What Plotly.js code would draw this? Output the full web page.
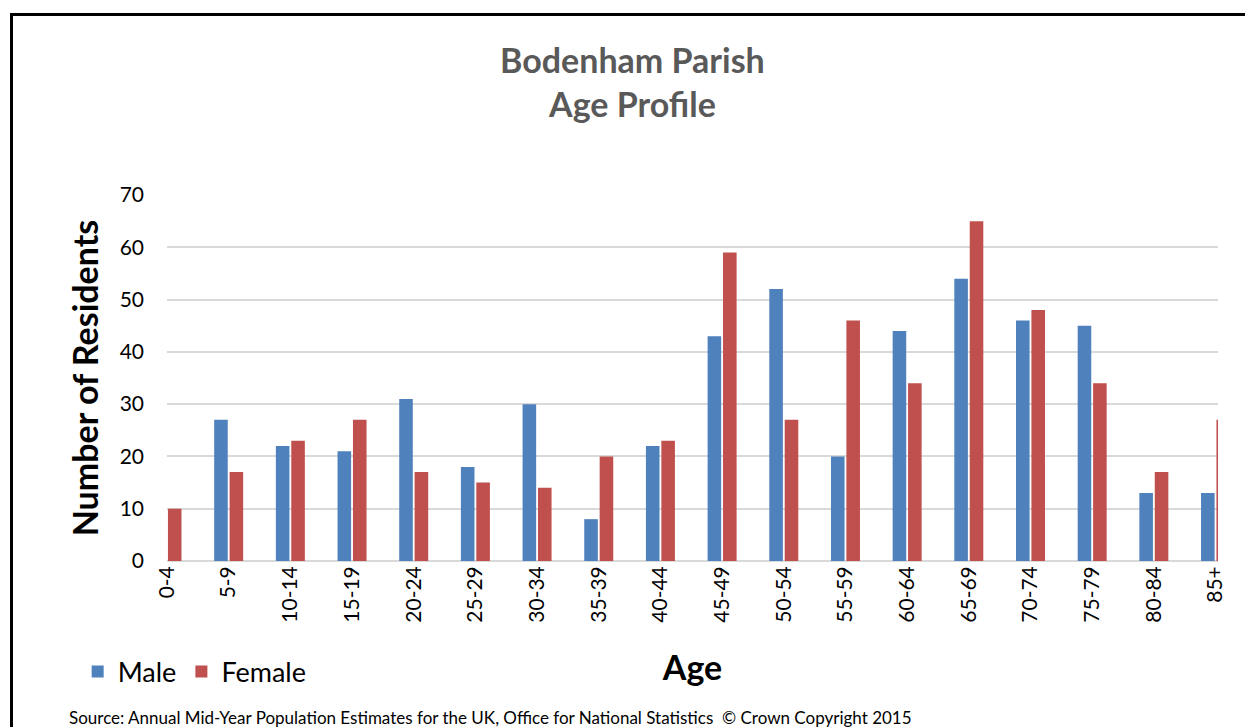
<!DOCTYPE html>
<html>
<head>
<meta charset="utf-8">
<script src="https://cdn.plot.ly/plotly-3.0.1.min.js"></script>
<style>
  body { margin: 0; background: #fff; }
  #chart { width: 1245px; height: 727px; }
  #frame { position: absolute; left: 10px; top: 13px; width: 1300px; height: 800px;
           border-left: 3px solid #000; border-top: 3px solid #000; pointer-events: none; }
</style>
</head>
<body>
<div id="chart"></div>
<div id="frame"></div>
<script>
// age bands and counts
const ageBands = ['0-4', '5-9', '10-14', '15-19', '20-24', '25-29', '30-34', '35-39', '40-44',
  '45-49', '50-54', '55-59', '60-64', '65-69', '70-74', '75-79', '80-84', '85+'];
const male = [0, 27, 22, 21, 31, 18, 30, 8, 22, 43, 52, 20, 44, 54, 46, 45, 13, 13];
const female = [10, 17, 23, 27, 17, 15, 14, 20, 23, 59, 27, 46, 34, 65, 48, 34, 17, 27];

const font = 'Lato, "Open Sans", sans-serif';

Plotly.newPlot('chart', [{
  type: 'bar',
  x: ageBands,
  y: male,
  name: 'Male',
  marker: { color: '#4f81bd' }
}, {
  type: 'bar',
  x: ageBands,
  y: female,
  name: 'Female',
  marker: { color: '#c0504d' }
}], {
  width: 1245,
  height: 727,
  margin: { l: 167, r: 27, t: 195, b: 166 },
  paper_bgcolor: '#fff',
  plot_bgcolor: '#fff',
  font: { family: font, color: '#000' },
  barmode: 'group',
  bargap: 0.5,
  bargroupgap: 0.12,
  title: {
    text: '<b>Bodenham Parish<br>Age Profile</b>',
    font: { size: 34, color: '#595959', family: font },
    x: 0.508, xanchor: 'center',
    y: 0.9, yanchor: 'middle'
  },
  xaxis: {
    type: 'category',
    range: [0, 17.04],
    tickangle: -90,
    tickfont: { size: 21 },
    ticks: '',
    showgrid: false,
    showline: false,
    zeroline: false,
    title: { text: '<b>Age</b>', font: { size: 34 }, standoff: 34 }
  },
  yaxis: {
    range: [0, 70],
    dtick: 10,
    tickfont: { size: 21 },
    gridcolor: '#d9d9d9',
    gridwidth: 2,
    zeroline: true,
    zerolinecolor: '#d9d9d9',
    zerolinewidth: 2,
    ticklabelstandoff: 22,
    title: { text: '<b>Number of Residents</b>', font: { size: 34 }, standoff: 10 }
  },
  showlegend: true,
  legend: {
    orientation: 'h',
    x: -0.085, xanchor: 'left',
    y: -0.303, yanchor: 'middle',
    font: { size: 27 },
    traceorder: 'normal'
  },
  annotations: [{
    text: 'Source: Annual Mid-Year Population Estimates for the UK, Office for National Statistics  \u00a9 Crown Copyright 2015',
    xref: 'paper', yref: 'paper',
    x: -0.095, xanchor: 'left',
    y: -0.428, yanchor: 'middle',
    showarrow: false,
    font: { size: 17, color: '#000' }
  }]
}, { displayModeBar: false });
</script>
</body>
</html>
